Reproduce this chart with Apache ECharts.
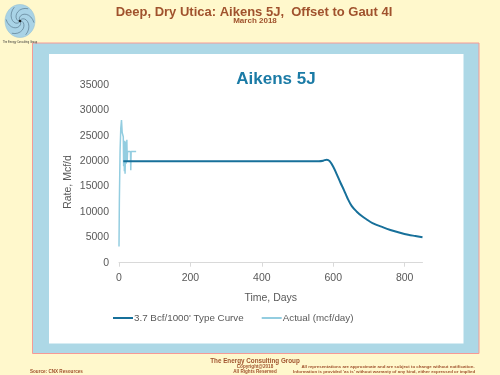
<!DOCTYPE html>
<html>
<head>
<meta charset="utf-8">
<script src="https://cdn.jsdelivr.net/npm/echarts@6/dist/echarts.min.js"></script>
<style>
html,body{margin:0;padding:0;background:#FFF8CC;}
#c{width:500px;height:375px;}
</style>
</head>
<body>
<div id="c"></div>
<script>
// ---- data ----
var typeDays = [12, 100, 200, 300, 400, 500, 560, 572, 582, 590, 600, 610, 620, 630, 640, 652, 666, 680, 693, 710, 740, 760, 787, 810, 830, 850];
var typeRate = [20000, 20000, 20000, 20000, 20000, 20000, 20000, 20100, 20300, 20000, 18900, 17400, 15800, 14300, 12700, 11150, 10050, 9200, 8550, 7800, 6950, 6450, 5900, 5500, 5250, 5000];
var actualDays = [0, 1, 3, 5, 7, 9, 12, 13, 14, 15, 16, 17, 19, 20, 22, 23, 24, 32, 33, 34, 48];
var actualRate = [3200, 12000, 22000, 26500, 28100, 25600, 24800, 19000, 23500, 18000, 24000, 17500, 23800, 19500, 24200, 20000, 21900, 21900, 18200, 21900, 21900];
var xTicks = [0, 200, 400, 600, 800];
var seriesNames = ["3.7 Bcf/1000' Type Curve", "Actual (mcf/day)"];

function pairs(a, b) { return a.map(function (v, i) { return [v, b[i]]; }); }

var SANS = "'Liberation Sans', Arial, sans-serif";
var BROWN = '#A0522D';
var GRAY = '#595959';

var chart = echarts.init(document.getElementById('c'), null, {renderer: 'canvas'});

var spiral = [];
for (var k = 0; k < 6; k++) {
  var a0 = k * Math.PI / 3;
  var pts = [];
  for (var t = 0; t <= 1.0001; t += 0.1) {
    var r = 1 + 13 * t;
    var ang = a0 + t * 2.2;
    pts.push([20 + r * Math.cos(ang), 21 + r * Math.sin(ang) * 1.08]);
  }
  spiral.push({type: 'polyline', shape: {points: pts}, style: {stroke: '#4d6b80', lineWidth: 0.6, fill: null}, z: 2});
}

var option = {
  backgroundColor: '#FFF8CC',
  animation: false,
  graphic: [
    {type: 'rect', shape: {x: 32.5, y: 43, width: 446.5, height: 310.5}, style: {fill: '#ADD8E6', stroke: '#F59A96', lineWidth: 1}, z: -10},
    {type: 'rect', shape: {x: 49, y: 54, width: 414.5, height: 289.5}, style: {fill: '#FFFFFF'}, z: -9},
    {type: 'ellipse', shape: {cx: 20, cy: 21, rx: 15, ry: 16.5}, style: {fill: '#A9D3E6', stroke: '#8fbcd2', lineWidth: 0.5}, z: 1}
  ].concat(spiral).concat([
    {type: 'circle', shape: {cx: 20, cy: 21, r: 1.3}, style: {fill: '#222'}, z: 3},
    {type: 'text', x: 68, y: 182, rotation: Math.PI / 2, style: {text: 'Rate, Mcf/d', font: '10.5px ' + SANS, fill: GRAY, align: 'center', verticalAlign: 'middle'}},
    {type: 'text', x: 20, y: 42, style: {text: 'The Energy Consulting Group', font: '2.6px ' + SANS, fill: '#333', align: 'center', verticalAlign: 'middle'}},
    {type: 'text', x: 254, y: 12, style: {text: 'Deep, Dry Utica: Aikens 5J,  Offset to Gaut 4I', font: 'bold 13px ' + SANS, fill: BROWN, align: 'center', verticalAlign: 'middle'}},
    {type: 'text', x: 255, y: 20.5, style: {text: 'March 2018', font: 'bold 8px ' + SANS, fill: BROWN, align: 'center', verticalAlign: 'middle'}},
    {type: 'text', x: 255, y: 361, style: {text: 'The Energy Consulting Group', font: 'bold 6.3px ' + SANS, fill: BROWN, align: 'center', verticalAlign: 'middle'}},
    {type: 'text', x: 255, y: 366.3, style: {text: 'Copyright@2018', font: 'bold 4.6px ' + SANS, fill: BROWN, align: 'center', verticalAlign: 'middle'}},
    {type: 'text', x: 255, y: 371.7, style: {text: 'All Rights Reserved', font: 'bold 4.6px ' + SANS, fill: BROWN, align: 'center', verticalAlign: 'middle'}},
    {type: 'text', x: 30, y: 371.7, style: {text: 'Source: CNX Resources', font: 'bold 4.6px ' + SANS, fill: BROWN, align: 'left', verticalAlign: 'middle'}},
    {type: 'text', x: 388, y: 366.3, style: {text: 'All representations are approximate and are subject to change without notification.', font: 'bold 4.4px ' + SANS, fill: BROWN, align: 'center', verticalAlign: 'middle'}},
    {type: 'text', x: 384, y: 371.7, style: {text: "Information is provided 'as is' without warranty of any kind, either expressed or implied", font: 'bold 4.4px ' + SANS, fill: BROWN, align: 'center', verticalAlign: 'middle'}}
  ]),
  title: {
    text: 'Aikens 5J',
    left: 271, top: 66, textAlign: 'center',
    textStyle: {color: '#1B7BA6', fontWeight: 'bold', fontSize: 17, fontFamily: SANS}
  },
  legend: {
    left: 113, top: 313, padding: 0,
    itemWidth: 20, itemHeight: 2, itemGap: 18,
    icon: 'rect',
    textStyle: {color: GRAY, fontSize: 9.8, fontFamily: SANS, padding: [0, 0, 0, -4]},
    data: seriesNames
  },
  grid: {left: 119, right: 77.5, top: 85, bottom: 112.3, containLabel: false},
  xAxis: {
    type: 'value', min: 0, max: 850, interval: 200,
    name: 'Time, Days', nameLocation: 'middle', nameGap: 30,
    nameTextStyle: {color: GRAY, fontSize: 10.5, fontFamily: SANS},
    axisLine: {show: true, lineStyle: {color: '#D9D9D9', width: 1}},
    axisTick: {show: true, length: 4, lineStyle: {color: '#D9D9D9'}, customValues: xTicks},
    axisLabel: {color: GRAY, fontSize: 10.5, fontFamily: SANS, margin: 10, customValues: xTicks},
    splitLine: {show: false}
  },
  yAxis: {
    type: 'value', min: 0, max: 35000, interval: 5000,
    axisLine: {show: false}, axisTick: {show: false},
    axisLabel: {color: GRAY, fontSize: 10.5, fontFamily: SANS, margin: 10, formatter: function (v) { return String(v); }},
    splitLine: {show: false}
  },
  series: [
    {
      name: seriesNames[0], type: 'line', data: pairs(typeDays, typeRate),
      symbol: 'none', smooth: 0.35, z: 3,
      lineStyle: {color: '#17709A', width: 2}, itemStyle: {color: '#17709A'}
    },
    {
      name: seriesNames[1], type: 'line', data: pairs(actualDays, actualRate),
      symbol: 'none', smooth: false, z: 2,
      lineStyle: {color: '#93CDE0', width: 1.5}, itemStyle: {color: '#93CDE0'}
    }
  ]
};
chart.setOption(option);
</script>
</body>
</html>
